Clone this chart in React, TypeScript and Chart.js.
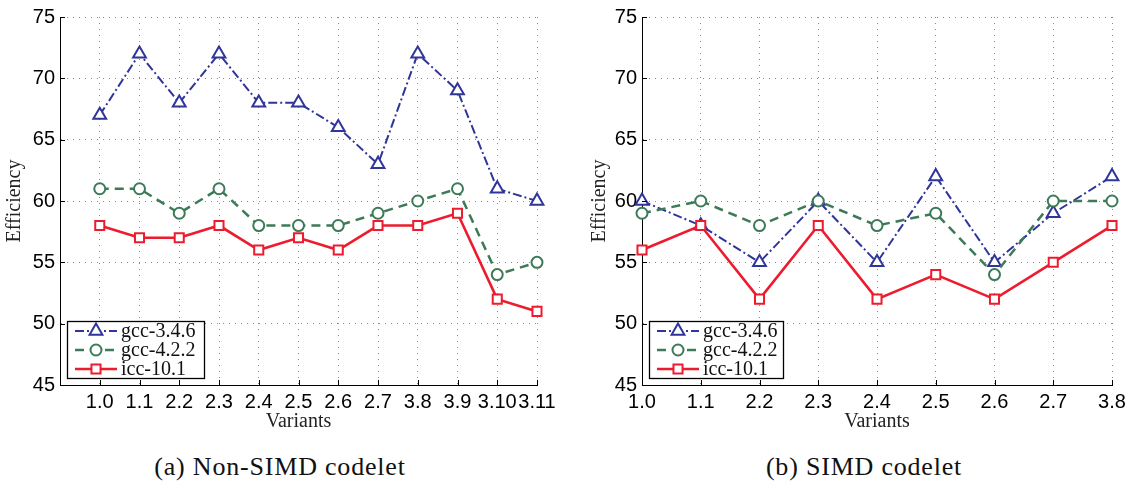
import React, { useEffect, useRef } from 'react';
import { Chart, registerables } from 'chart.js';

Chart.register(...registerables);

// ---- data ----
const seriesNames = ['gcc-3.4.6', 'gcc-4.2.2', 'icc-10.1'];

const nonSimdVariants = ['1.0', '1.1', '2.2', '2.3', '2.4', '2.5', '2.6', '2.7', '3.8', '3.9', '3.10', '3.11'];
const nonSimdGcc346 = [67, 72, 68, 72, 68, 68, 66, 63, 72, 69, 61, 60];
const nonSimdGcc422 = [61, 61, 59, 61, 58, 58, 58, 59, 60, 61, 54, 55];
const nonSimdIcc101 = [58, 57, 57, 58, 56, 57, 56, 58, 58, 59, 52, 51];

const simdVariants = ['1.0', '1.1', '2.2', '2.3', '2.4', '2.5', '2.6', '2.7', '3.8'];
const simdGcc346 = [60, 58, 55, 60, 55, 62, 55, 59, 62];
const simdGcc422 = [59, 60, 58, 60, 58, 59, 54, 60, 60];
const simdIcc101 = [56, 58, 52, 58, 52, 54, 52, 55, 58];

const yTickValues = [45, 50, 55, 60, 65, 70, 75];

const captions = ['(a) Non-SIMD codelet', '(b) SIMD codelet'];

// ---- styles ----
const STYLES = [
  { color: '#2f3599', dash: [9, 3, 2, 3], width: 2, point: 'triangle', radius: 7.4, order: 3 },
  { color: '#3c7a58', dash: [9, 6], width: 2.5, point: 'circle', radius: 5.5, order: 2 },
  { color: '#ec1c2e', dash: [], width: 2.6, point: 'rect', radius: 6.4, order: 1 },
];

const TICK_FONT = { family: '"Liberation Sans", Arial, Helvetica, sans-serif', size: 20 };

function drawMarker(ctx: CanvasRenderingContext2D, style: string, x: number, y: number, r: number) {
  ctx.beginPath();
  if (style === 'triangle') {
    ctx.moveTo(x, y - r);
    ctx.lineTo(x + r * 0.866, y + r / 2);
    ctx.lineTo(x - r * 0.866, y + r / 2);
    ctx.closePath();
  } else if (style === 'circle') {
    ctx.arc(x, y, r, 0, Math.PI * 2);
  } else {
    const s = Math.SQRT1_2 * r;
    ctx.rect(x - s, y - s, 2 * s, 2 * s);
  }
  ctx.fill();
  ctx.stroke();
}

const decorPlugin = {
  id: 'decor',
  afterDraw(chart: any, _args: any, opts: any) {
    const { ctx, chartArea: a, scales } = chart;
    ctx.save();
    // inward tick marks (MATLAB style)
    ctx.strokeStyle = '#000';
    ctx.lineWidth = 1;
    ctx.setLineDash([]);
    ctx.beginPath();
    scales.x.ticks.forEach((t: any) => {
      const px = Math.round(scales.x.getPixelForValue(t.value)) + 0.5;
      ctx.moveTo(px, a.bottom);
      ctx.lineTo(px, a.bottom - 5);
    });
    scales.y.ticks.forEach((t: any) => {
      const py = Math.round(scales.y.getPixelForValue(t.value)) + 0.5;
      ctx.moveTo(a.left, py);
      ctx.lineTo(a.left + 5, py);
    });
    ctx.stroke();

    // legend box
    const bw = opts.w;
    const bh = 57;
    const bx = Math.round(a.left + opts.dx);
    const by = Math.round(a.bottom - opts.dy - bh);
    ctx.fillStyle = '#fff';
    ctx.fillRect(bx, by, bw, bh);
    ctx.lineWidth = 1.3;
    ctx.strokeStyle = '#000';
    ctx.strokeRect(bx + 0.5, by + 0.5, bw, bh);

    chart.data.datasets.forEach((ds: any, k: number) => {
      const st = STYLES[k];
      const ry = by + 10 + k * 19;
      ctx.save();
      ctx.strokeStyle = st.color;
      ctx.lineWidth = st.width;
      ctx.setLineDash(st.dash);
      ctx.beginPath();
      ctx.moveTo(bx + 8, ry);
      ctx.lineTo(bx + 50, ry);
      ctx.stroke();
      ctx.setLineDash([]);
      ctx.lineWidth = 2;
      ctx.fillStyle = '#fff';
      drawMarker(ctx, st.point, bx + 29, ry, st.radius);
      ctx.restore();
      ctx.fillStyle = '#111';
      ctx.font = '20px "Liberation Serif", serif';
      ctx.textBaseline = 'middle';
      ctx.textAlign = 'left';
      ctx.fillText(ds.label, bx + 54, ry + 1);
    });
    ctx.restore();
  },
};

function buildConfig(p: {
  labels: string[];
  values: number[][];
  xMin: number;
  xMax: number;
  yAxisWidth: number;
  yTitlePad: number;
  padRight: number;
  legendW: number;
}) {
  const datasets = p.values.map((vals, k) => {
    const st = STYLES[k];
    return {
      label: seriesNames[k],
      data: vals.map((y, i) => ({ x: i + 1, y })),
      borderColor: st.color,
      borderWidth: st.width,
      borderDash: st.dash,
      pointStyle: st.point,
      pointRadius: st.radius,
      pointHoverRadius: st.radius,
      pointBorderWidth: 2,
      pointBorderColor: st.color,
      pointBackgroundColor: '#ffffff',
      backgroundColor: st.color,
      tension: 0,
      fill: false,
      clip: false as any,
      order: st.order,
    };
  });
  const xTickValues: number[] = [];
  for (let v = p.xMin; v <= p.xMax; v++) xTickValues.push(v);

  return {
    type: 'line' as const,
    data: { datasets },
    plugins: [decorPlugin],
    options: {
      animation: false as const,
      responsive: false,
      maintainAspectRatio: false,
      layout: { padding: { top: 13, right: p.padRight, bottom: 0, left: 0 } },
      plugins: {
        legend: { display: false },
        tooltip: { enabled: false },
        decor: { dx: 7, dy: 7, w: p.legendW },
      },
      scales: {
        x: {
          type: 'linear' as const,
          min: p.xMin,
          max: p.xMax,
          afterBuildTicks: (scale: any) => {
            scale.ticks = xTickValues.map((v) => ({ value: v }));
          },
          afterFit: (scale: any) => {
            scale.height = 55;
          },
          ticks: {
            autoSkip: false,
            maxRotation: 0,
            minRotation: 0,
            padding: 5,
            color: '#000',
            font: TICK_FONT,
            callback: (value: any) => p.labels[value - 1] ?? '',
          },
          grid: {
            color: '#8a8a8a',
            lineWidth: 1,
            drawTicks: false,
          },
          border: { display: true, color: '#000', width: 1, dash: [1, 5] },
          title: {
            display: true,
            text: 'Variants',
            color: '#222',
            font: { family: '"Liberation Serif", serif', size: 20 },
            padding: { top: 0, bottom: 6 },
          },
        },
        y: {
          type: 'linear' as const,
          min: 45,
          max: 75,
          afterBuildTicks: (scale: any) => {
            scale.ticks = yTickValues.map((v) => ({ value: v }));
          },
          afterFit: (scale: any) => {
            scale.width = p.yAxisWidth;
          },
          ticks: {
            padding: 5,
            color: '#000',
            font: TICK_FONT,
          },
          grid: {
            color: '#8a8a8a',
            lineWidth: 1,
            drawTicks: false,
          },
          border: { display: true, color: '#000', width: 1, dash: [1, 5] },
          title: {
            display: true,
            text: 'Efficiency',
            color: '#222',
            font: { family: '"Liberation Serif", serif', size: 20 },
            padding: { top: p.yTitlePad, bottom: 0 },
          },
        },
      },
    },
  };
}

function ChartCanvas(props: { config: any; left: number; width: number; height: number }) {
  const ref = useRef<HTMLCanvasElement | null>(null);
  useEffect(() => {
    if (!ref.current) return;
    const chart = new Chart(ref.current, props.config);
    return () => chart.destroy();
  }, []);
  return (
    <canvas
      ref={ref}
      width={props.width}
      height={props.height}
      style={{ position: 'absolute', left: props.left, top: 0, width: props.width, height: props.height }}
    />
  );
}

export default function App() {
  const leftConfig = buildConfig({
    labels: nonSimdVariants,
    values: [nonSimdGcc346, nonSimdGcc422, nonSimdIcc101],
    xMin: 0,
    xMax: 12,
    yAxisWidth: 60,
    yTitlePad: 3,
    padRight: 33,
    legendW: 137,
  });
  const rightConfig = buildConfig({
    labels: simdVariants,
    values: [simdGcc346, simdGcc422, simdIcc101],
    xMin: 1,
    xMax: 9,
    yAxisWidth: 72,
    yTitlePad: 18,
    padRight: 27,
    legendW: 134,
  });
  const captionStyle = (cx: number): React.CSSProperties => ({
    position: 'absolute',
    left: cx - 200,
    width: 400,
    top: 452,
    textAlign: 'center',
    fontFamily: '"Liberation Serif", serif',
    fontSize: 26,
    letterSpacing: 0.8,
    color: '#111',
    lineHeight: '30px',
    whiteSpace: 'nowrap',
  });
  return (
    <div style={{ position: 'fixed', left: 0, top: 0, width: 1139, height: 489, background: '#fff', overflow: 'hidden' }}>
      <ChartCanvas config={leftConfig} left={0} width={570} height={440} />
      <ChartCanvas config={rightConfig} left={570} width={569} height={440} />
      <div style={captionStyle(280)}>{captions[0]}</div>
      <div style={captionStyle(864)}>{captions[1]}</div>
    </div>
  );
}
